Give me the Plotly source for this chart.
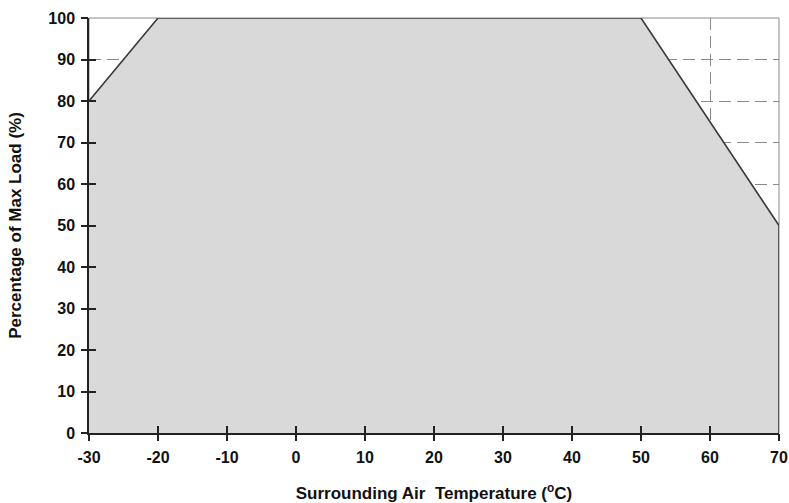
import plotly.graph_objects as go

temps = [-30, -20, 50, 70, 70]
load = [80, 100, 100, 50, 0]
x_ticks = [-30, -20, -10, 0, 10, 20, 30, 40, 50, 60, 70]
y_ticks = [0, 10, 20, 30, 40, 50, 60, 70, 80, 90, 100]

font_fam = "Liberation Sans, Arial, sans-serif"

fig = go.Figure()
fig.add_trace(go.Scatter(
    x=temps, y=load, mode="lines", fill="tozeroy",
    fillcolor="#d9d9d9", line=dict(color="#3a3a3a", width=1.6),
    showlegend=False, hoverinfo="skip",
))
# invisible trace to activate secondary axes (outer halves of the crossing ticks)
fig.add_trace(go.Scatter(x=[-30, 70], y=[0, 100], xaxis="x2", yaxis="y2",
                         mode="markers", marker=dict(opacity=0), showlegend=False, hoverinfo="skip"))

tick_font = dict(size=16, family=font_fam, color="#111", weight="bold")
title_font = dict(size=17, family=font_fam, weight="bold", color="#111")

fig.update_layout(
    width=789, height=503,
    margin=dict(l=89, r=10, t=18, b=70, autoexpand=False),
    paper_bgcolor="white", plot_bgcolor="white",
    font=dict(family=font_fam, color="#111"),
    xaxis=dict(
        range=[-30, 70], tickvals=x_ticks, ticktext=[str(v) for v in x_ticks],
        ticks="inside", ticklen=7, tickwidth=1.5, tickcolor="#222",
        ticklabelstandoff=9, layer="above traces",
        showline=True, linecolor="#222", linewidth=1.5,
        showgrid=True, gridcolor="#8a8a8a", gridwidth=1, griddash="12px,6px",
        zeroline=False, automargin=False,
        tickfont=tick_font,
        title=dict(text="Surrounding Air  Temperature (<sup>o</sup>C)",
                   font=title_font, standoff=28),
    ),
    yaxis=dict(
        range=[0, 100], tickvals=y_ticks, ticktext=[str(v) for v in y_ticks],
        ticks="inside", ticklen=7, tickwidth=1.5, tickcolor="#222",
        ticklabelstandoff=9, layer="above traces",
        showline=True, linecolor="#222", linewidth=1.5,
        showgrid=True, gridcolor="#8a8a8a", gridwidth=1, griddash="12px,6px",
        zeroline=False, automargin=False,
        tickfont=tick_font,
        title=dict(text="Percentage of Max Load (%)",
                   font=title_font, standoff=22),
    ),
    xaxis2=dict(range=[-30, 70], overlaying="x", side="bottom", anchor="y2", tickvals=x_ticks,
                ticks="outside", ticklen=7, tickwidth=1.5, tickcolor="#222",
                showticklabels=False, showgrid=False, zeroline=False, showline=False,
                automargin=False),
    yaxis2=dict(range=[0, 100], overlaying="y", side="left", anchor="x2", tickvals=y_ticks,
                ticks="outside", ticklen=7, tickwidth=1.5, tickcolor="#222",
                showticklabels=False, showgrid=False, zeroline=False, showline=False,
                automargin=False),
    shapes=[dict(type="rect", xref="paper", yref="paper", x0=0, x1=1, y0=0, y1=1,
                 line=dict(color="#888", width=1), layer="below")],
)

fig.write_html("out.html", config={"displayModeBar": False},
               post_script="document.body.style.margin='0';document.body.style.overflow='hidden';")
